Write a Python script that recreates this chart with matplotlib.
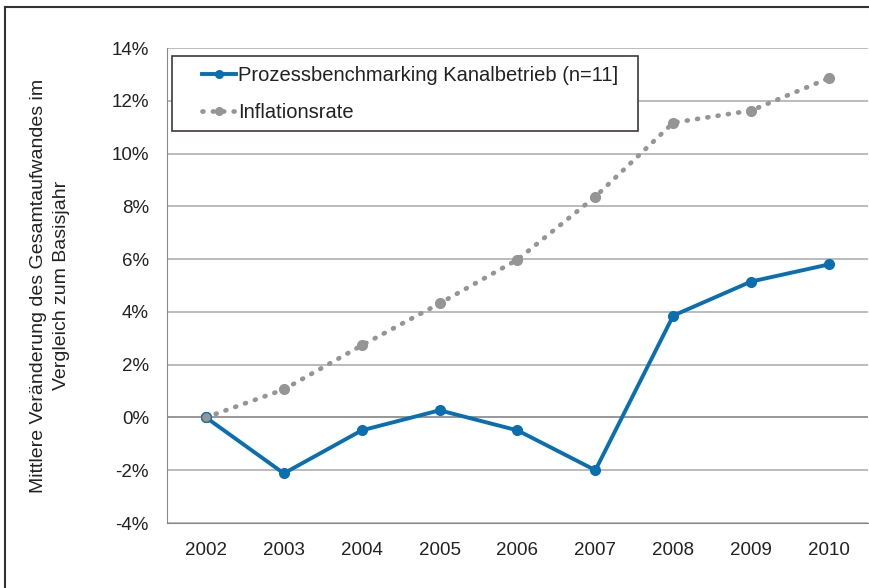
import matplotlib.pyplot as plt
from matplotlib.lines import Line2D
from matplotlib.patches import Rectangle
import numpy as np

years = ["2002", "2003", "2004", "2005", "2006", "2007", "2008", "2009", "2010"]
kanal = [0.0, -2.12, -0.49, 0.27, -0.49, -2.0, 3.86, 5.15, 5.8]
inflation = [0.0, 1.06, 2.73, 4.32, 5.98, 8.37, 11.17, 11.63, 12.86]
yticks = [-4, -2, 0, 2, 4, 6, 8, 10, 12, 14]

plt.rcParams['font.family'] = ['Liberation Sans', 'DejaVu Sans']

W, H = 870, 588
fig = plt.figure(figsize=(W/100, H/100), dpi=100)
ax = fig.add_axes([167/W, 1 - 523/H, (868 - 167)/W, (523 - 48)/H])

x = np.arange(len(years))
blue = '#0a6fb0'
grey = '#959595'

for t in yticks:
    ax.axhline(t, color='#7a7a7a' if t == 0 else '#a8a8a8', lw=1.1, zorder=1)

ax.plot(x, inflation, color=grey, lw=3.4, ls=(0, (0.2, 2.0)),
        dash_capstyle='round', marker='o', ms=7, zorder=2)
ax.plot(x, kanal, color=blue, lw=2.8, marker='o', ms=7, zorder=3)
ax.plot([0], [0], marker='o', ms=7, color=grey, mec=blue, mew=0.8, zorder=4)

ax.set_xlim(-0.5, len(years) - 0.5)
ax.set_ylim(-4, 14)
ax.set_xticks(x)
ax.set_xticklabels(years)
ax.set_yticks(yticks)
ax.set_yticklabels([f"{t}%" for t in yticks])
ax.tick_params(length=0, labelsize=13.5, colors='#222222')
ax.tick_params(axis='x', pad=14)
ax.tick_params(axis='y', pad=13)
for s in ['top', 'right']:
    ax.spines[s].set_visible(False)
ax.spines['left'].set_color('#8a8a8a')
ax.spines['bottom'].set_color('#8a8a8a')

ax.set_ylabel("Mittlere Veränderung des Gesamtaufwandes im\nVergleich zum Basisjahr",
              fontsize=14, color='#222222', labelpad=30, linespacing=1.45)

handles = [
    Line2D([], [], color=blue, lw=2.8, marker='o', ms=5.5),
    Line2D([], [], color=grey, lw=3.4, ls=(0, (0.2, 2.0)), dash_capstyle='round', marker='o', ms=5.5),
]
leg = fig.legend(handles, ["Prozessbenchmarking Kanalbetrieb (n=11]", "Inflationsrate"],
                 loc='upper left', bbox_to_anchor=(202/W, 1 - 66/H), fontsize=14.5,
                 frameon=False, handlelength=1.7, handletextpad=0.1,
                 borderpad=0, labelspacing=0.9, borderaxespad=0)
for t in leg.get_texts():
    t.set_color('#222222')

fig.add_artist(Rectangle((172/W, 1 - 131/H), (638 - 172)/W, (131 - 56)/H,
                         fill=True, facecolor='white', edgecolor='#403a36', lw=1.2,
                         transform=fig.transFigure, zorder=1.5))
leg.set_zorder(3)

fig.add_artist(Line2D([5/W, 5/W], [0, 1 - 7/H], color='#333333', lw=1.5))
fig.add_artist(Line2D([5/W, 1], [1 - 7/H, 1 - 7/H], color='#333333', lw=1.5))

fig.savefig('out.png', dpi=100)
